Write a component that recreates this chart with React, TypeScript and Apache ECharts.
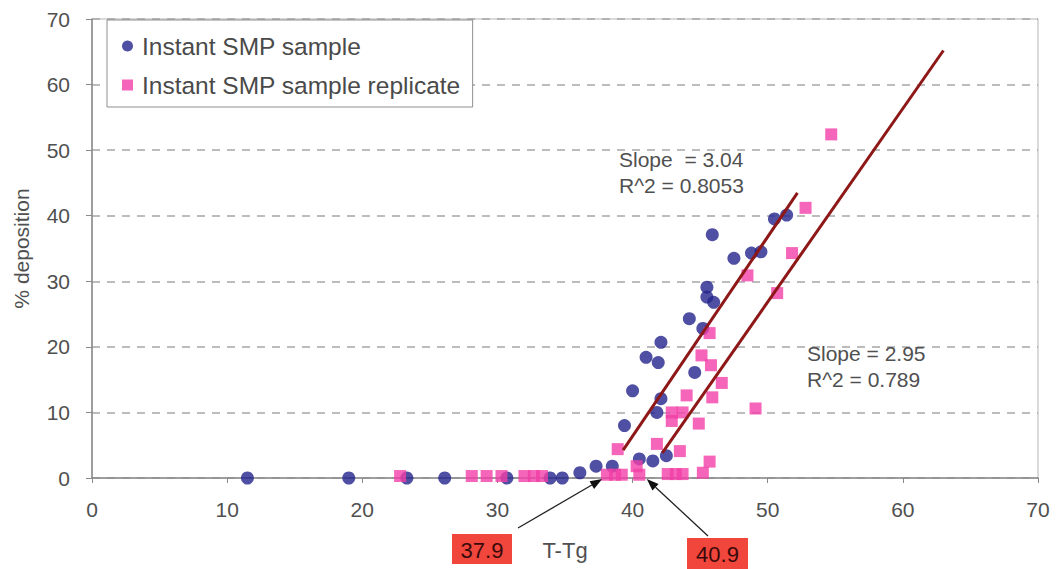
import React, { useEffect, useRef } from "react";
import * as echarts from "echarts";

// Instant SMP sample: x = T-Tg, y = % deposition
const sampleX = [11.5, 19.0, 23.3, 26.1, 30.7, 33.9, 34.8, 36.1, 37.3, 38.5, 40.5, 41.5, 42.5, 39.4, 40.0, 41.0, 41.9, 42.1, 42.1, 41.8, 44.2, 44.6, 45.2, 45.5, 45.5, 46.0, 45.9, 47.5, 48.8, 49.5, 50.5, 51.4];
const sampleY = [0, 0, 0, 0, 0, 0, 0, 0.8, 1.8, 1.8, 2.9, 2.6, 3.4, 8.0, 13.3, 18.4, 17.6, 20.7, 12.1, 10.0, 24.3, 16.1, 22.8, 29.1, 27.6, 26.8, 37.1, 33.5, 34.3, 34.5, 39.5, 40.1];

// Instant SMP sample replicate
const replicateX = [22.8, 28.1, 29.2, 30.3, 32.0, 32.7, 33.3, 38.1, 38.7, 39.2, 38.9, 40.3, 40.5, 42.6, 43.2, 43.7, 45.2, 45.7, 41.8, 43.5, 42.9, 42.9, 43.7, 44.9, 44.0, 45.9, 46.6, 45.1, 45.8, 45.7, 49.1, 48.5, 50.7, 51.8, 52.8, 54.7];
const replicateY = [0.3, 0.3, 0.3, 0.3, 0.3, 0.3, 0.3, 0.5, 0.5, 0.5, 4.4, 1.8, 0.5, 0.6, 0.6, 0.6, 0.8, 2.5, 5.2, 4.1, 8.7, 10.0, 10.0, 8.3, 12.6, 12.3, 14.5, 18.7, 17.2, 22.1, 10.6, 30.9, 28.2, 34.3, 41.2, 52.4];

// Linear fits: slope, x-intercept (onset T-Tg), R^2 and the drawn x-range
const fitSlopes = [3.04, 2.95];
const fitOnsets = [37.9, 40.9];
const fitR2 = ["0.8053", "0.789"];
const fitFrom = [39.3, 42.2];
const fitTo = [52.2, 63.0];

const seriesNames = ["Instant SMP sample", "Instant SMP sample replicate"];
const axisMin = 0;
const axisMax = 70;
const axisStep = 10;

const FONT = "'Liberation Sans', Arial, sans-serif";
const BLUE = "#23238c";
const PINK = "#f23fa8";
const FIT = "#8e1818";
const TEXT = "#505050";

function fitLine(i: number): number[][] {
  const f = (x: number) => fitSlopes[i] * (x - fitOnsets[i]);
  return [
    [fitFrom[i], f(fitFrom[i])],
    [fitTo[i], f(fitTo[i])],
  ];
}

function arrow(from: number[], to: number[]) {
  const dx = to[0] - from[0];
  const dy = to[1] - from[1];
  const len = Math.sqrt(dx * dx + dy * dy);
  const ux = dx / len;
  const uy = dy / len;
  const headLen = 12;
  const headW = 4.5;
  const bx = to[0] - ux * headLen;
  const by = to[1] - uy * headLen;
  return [
    {
      type: "line",
      z: 100,
      shape: { x1: from[0], y1: from[1], x2: bx, y2: by },
      style: { stroke: "#222", lineWidth: 1.3 },
    },
    {
      type: "polygon",
      z: 100,
      shape: {
        points: [
          [to[0], to[1]],
          [bx - uy * headW, by + ux * headW],
          [bx + uy * headW, by - ux * headW],
        ],
      },
      style: { fill: "#111" },
    },
  ];
}

function valueBox(x: number, y: number, w: number, h: number, text: string) {
  return [
    {
      type: "rect",
      z: 100,
      shape: { x, y, width: w, height: h },
      style: { fill: "#f0463c" },
    },
    {
      type: "text",
      z: 101,
      x: x + w / 2,
      y: y + h / 2 + 1,
      style: {
        text,
        fill: "#3a0a0a",
        font: `22px ${FONT}`,
        align: "center",
        verticalAlign: "middle",
      },
    },
  ];
}

function fitLabel(x: number, y: number, slope: string, r2: string) {
  return [
    {
      type: "text",
      z: 100,
      x,
      y,
      style: { text: slope, fill: TEXT, font: `21px ${FONT}`, verticalAlign: "middle" },
    },
    {
      type: "text",
      z: 100,
      x,
      y: y + 26,
      style: { text: r2, fill: TEXT, font: `21px ${FONT}`, verticalAlign: "middle" },
    },
  ];
}

export default function App() {
  const ref = useRef<HTMLDivElement>(null);

  useEffect(() => {
    if (!ref.current) return;
    const chart = echarts.init(ref.current, undefined, { renderer: "svg" });

    const sampleData = sampleX.map((x, i) => [x, sampleY[i]]);
    const replicateData = replicateX.map((x, i) => [x, replicateY[i]]);

    chart.setOption({
      animation: false,
      backgroundColor: "#ffffff",
      textStyle: { fontFamily: FONT },
      grid: {
        left: 92,
        right: 18,
        top: 19,
        bottom: 91,
        outerBoundsMode: "none",
        containLabel: false,
        show: true,
        borderColor: "#b4b4b4",
        borderWidth: 1,
      },
      legend: {
        left: 107,
        top: 20,
        orient: "vertical",
        data: [
          { name: seriesNames[0], icon: "circle" },
          { name: seriesNames[1], icon: "rect" },
        ],
        itemWidth: 11,
        itemHeight: 11,
        itemGap: 13,
        padding: [13, 12, 9, 15],
        backgroundColor: "#ffffff",
        borderColor: "#8f8f8f",
        borderWidth: 1,
        textStyle: {
          fontSize: 24.5,
          color: "#4a4a4a",
          fontFamily: FONT,
          lineHeight: 26,
          padding: [0, 0, 0, 4],
        },
      },
      xAxis: {
        type: "value",
        min: axisMin,
        max: axisMax,
        interval: axisStep,
        name: "T-Tg",
        nameLocation: "middle",
        nameGap: 61,
        nameTextStyle: { fontSize: 22, color: TEXT, fontFamily: FONT },
        axisLine: { show: true, onZero: false, lineStyle: { color: "#8a8a8a", width: 1.5 } },
        axisTick: { show: true, length: 5, lineStyle: { color: "#8a8a8a" } },
        axisLabel: { fontSize: 21, color: TEXT, margin: 21, fontFamily: FONT },
        splitLine: { show: false },
      },
      yAxis: {
        type: "value",
        min: axisMin,
        max: axisMax,
        interval: axisStep,
        name: "% deposition",
        nameLocation: "middle",
        nameGap: 60,
        nameTextStyle: { fontSize: 21, color: TEXT, fontFamily: FONT },
        axisLine: { show: true, lineStyle: { color: "#8a8a8a", width: 1.5 } },
        axisTick: { show: true, length: 6, lineStyle: { color: "#8a8a8a" } },
        axisLabel: { fontSize: 21, color: TEXT, margin: 22, fontFamily: FONT },
        splitLine: {
          show: true,
          lineStyle: { color: "#a6a6a6", width: 1.5, type: [8, 7] },
        },
      },
      series: [
        {
          name: seriesNames[0],
          type: "scatter",
          data: sampleData,
          symbol: "circle",
          symbolSize: 13,
          itemStyle: { color: BLUE },
          z: 3,
        },
        {
          name: seriesNames[1],
          type: "scatter",
          data: replicateData,
          symbol: "rect",
          symbolSize: 12,
          itemStyle: { color: PINK },
          z: 4,
        },
        {
          name: "fit-sample",
          type: "line",
          data: fitLine(0),
          symbol: "none",
          lineStyle: { color: FIT, width: 3 },
          z: 5,
        },
        {
          name: "fit-replicate",
          type: "line",
          data: fitLine(1),
          symbol: "none",
          lineStyle: { color: FIT, width: 3 },
          z: 5,
        },
      ],
    });

    const tip1 = chart.convertToPixel({ xAxisIndex: 0, yAxisIndex: 0 }, [fitOnsets[0], 0]) as number[];
    const tip2 = chart.convertToPixel({ xAxisIndex: 0, yAxisIndex: 0 }, [fitOnsets[1], 0]) as number[];

    chart.setOption({
      graphic: [
        ...fitLabel(619, 159, `Slope  = ${fitSlopes[0].toFixed(2)}`, `R^2 = ${fitR2[0]}`),
        ...fitLabel(807, 353, `Slope = ${fitSlopes[1].toFixed(2)}`, `R^2 = ${fitR2[1]}`),
        ...arrow([518, 528], [tip1[0] - 2, tip1[1] + 1]),
        ...arrow([708, 536], [tip2[0] + 2, tip2[1] + 1]),
        ...valueBox(452, 534, 60, 30, fitOnsets[0].toFixed(1)),
        ...valueBox(687, 538, 61, 31, fitOnsets[1].toFixed(1)),
      ],
    });

    return () => chart.dispose();
  }, []);

  return (
    <div
      ref={ref}
      style={{ position: "fixed", left: 0, top: 0, width: 1056, height: 569 }}
    />
  );
}
